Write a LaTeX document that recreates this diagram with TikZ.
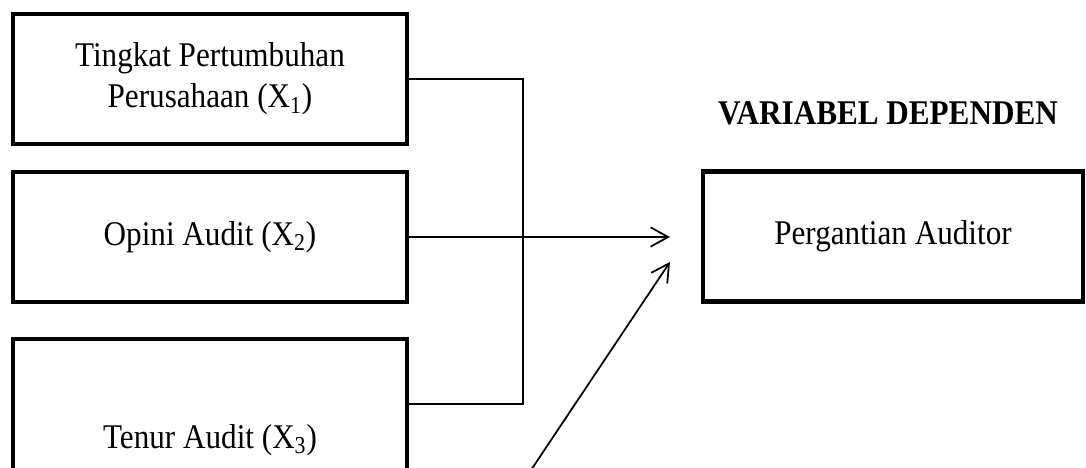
\documentclass[tikz,border=0pt]{standalone}
\usepackage{fontspec}
\setmainfont{Liberation Serif}[FakeStretch=0.9]
\usetikzlibrary{arrows.meta}

\begin{document}
\begin{tikzpicture}[font=\fontsize{19.7}{23.2}\selectfont,
        kotak/.style={draw, line width=2.3pt, minimum height=2.6cm, align=center},
        garis/.style={line width=0.7pt},
        panah/.style={line width=1pt, -{Straight Barb[length=10pt,width=11pt]}}]
        \def\w{7.88}
        \useasboundingbox (0,0) rectangle (21.72,9.36);
        \clip (0,0) rectangle (21.72,9.36);
        % variabel independen
        \node[kotak, minimum width=\w cm] (tingkat) at (4.2,7.78) {Tingkat Pertumbuhan\\Perusahaan (X\textsubscript{1})};
        \node[kotak, minimum width=\w cm] (opini) at (4.2,4.62) {Opini Audit (X\textsubscript{2})};
        \node[kotak, minimum width=\w cm, minimum height=4.04cm] (tenur) at (4.2,0.56) {Tenur Audit (X\textsubscript{3})};
        % variabel dependen
        \node[font=\fontsize{19.7}{23.2}\selectfont\bfseries] (judul) at (17.76,7.1) {VARIABEL DEPENDEN};
        \node[kotak, minimum width=7.6cm] (pergantian) at (17.86,4.63) {Pergantian Auditor};
        % hubungan
        \draw[garis] (tingkat.east) -- ++(2.28,0) |- ([yshift=0.72cm]tenur.east);
        \draw[panah, shorten >=0.62cm] (opini.east) -- (opini.east -| pergantian.west);
        \coordinate (asal) at (10.22,-0.64);
        \draw[panah] (asal) -- ([xshift=-0.62cm,yshift=-0.51cm]pergantian.west);
    \end{tikzpicture}
\end{document}
